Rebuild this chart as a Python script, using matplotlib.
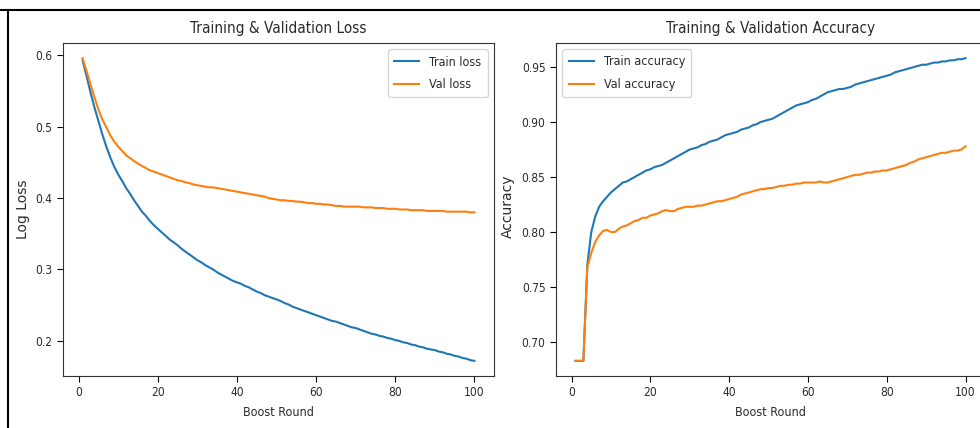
import matplotlib
matplotlib.use("Agg")
import matplotlib.pyplot as plt
from matplotlib.lines import Line2D

rounds = list(range(1, 101))

train_loss = [0.593, 0.571, 0.548, 0.527, 0.508, 0.489, 0.472, 0.457, 0.444, 0.433,
              0.424, 0.414, 0.406, 0.397, 0.389, 0.381, 0.375, 0.368, 0.362, 0.357,
              0.352, 0.347, 0.342, 0.338, 0.334, 0.329, 0.325, 0.321, 0.317, 0.313,
              0.310, 0.306, 0.303, 0.300, 0.296, 0.293, 0.290, 0.287, 0.284, 0.282,
              0.280, 0.277, 0.275, 0.272, 0.269, 0.267, 0.264, 0.262, 0.260, 0.258,
              0.256, 0.253, 0.251, 0.248, 0.246, 0.244, 0.242, 0.240, 0.238, 0.236,
              0.234, 0.232, 0.230, 0.228, 0.227, 0.225, 0.223, 0.221, 0.219, 0.218,
              0.216, 0.214, 0.212, 0.210, 0.209, 0.207, 0.206, 0.204, 0.203, 0.201,
              0.200, 0.198, 0.197, 0.195, 0.194, 0.192, 0.191, 0.189, 0.188, 0.187,
              0.185, 0.184, 0.182, 0.181, 0.179, 0.178, 0.176, 0.175, 0.173, 0.172]

val_loss = [0.596, 0.578, 0.559, 0.541, 0.524, 0.510, 0.499, 0.488, 0.479, 0.472,
            0.466, 0.460, 0.456, 0.452, 0.448, 0.445, 0.442, 0.439, 0.437, 0.435,
            0.433, 0.431, 0.429, 0.427, 0.425, 0.424, 0.422, 0.421, 0.419, 0.418,
            0.417, 0.416, 0.415, 0.415, 0.414, 0.413, 0.412, 0.411, 0.410, 0.409,
            0.408, 0.407, 0.406, 0.405, 0.404, 0.403, 0.402, 0.400, 0.399, 0.398,
            0.397, 0.397, 0.396, 0.396, 0.395, 0.395, 0.394, 0.393, 0.393, 0.392,
            0.392, 0.391, 0.391, 0.390, 0.389, 0.389, 0.388, 0.388, 0.388, 0.388,
            0.388, 0.387, 0.387, 0.387, 0.386, 0.386, 0.386, 0.385, 0.385, 0.385,
            0.384, 0.384, 0.384, 0.383, 0.383, 0.383, 0.383, 0.382, 0.382, 0.382,
            0.382, 0.382, 0.381, 0.381, 0.381, 0.381, 0.381, 0.381, 0.380, 0.380]

train_acc = [0.683, 0.683, 0.683, 0.770, 0.800, 0.814, 0.823, 0.828, 0.832, 0.836,
             0.839, 0.842, 0.845, 0.846, 0.848, 0.850, 0.852, 0.854, 0.856, 0.857,
             0.859, 0.860, 0.861, 0.863, 0.865, 0.867, 0.869, 0.871, 0.873, 0.875,
             0.876, 0.877, 0.879, 0.880, 0.882, 0.883, 0.884, 0.886, 0.888, 0.889,
             0.890, 0.891, 0.893, 0.894, 0.895, 0.897, 0.898, 0.900, 0.901, 0.902,
             0.903, 0.905, 0.907, 0.909, 0.911, 0.913, 0.915, 0.916, 0.917, 0.918,
             0.920, 0.921, 0.923, 0.925, 0.927, 0.928, 0.929, 0.930, 0.930, 0.931,
             0.932, 0.934, 0.935, 0.936, 0.937, 0.938, 0.939, 0.940, 0.941, 0.942,
             0.943, 0.945, 0.946, 0.947, 0.948, 0.949, 0.950, 0.951, 0.952, 0.952,
             0.953, 0.954, 0.954, 0.955, 0.955, 0.956, 0.956, 0.957, 0.957, 0.958]

val_acc = [0.683, 0.683, 0.683, 0.768, 0.781, 0.791, 0.797, 0.801, 0.802, 0.800,
           0.800, 0.803, 0.805, 0.806, 0.808, 0.810, 0.811, 0.813, 0.813, 0.815,
           0.816, 0.817, 0.819, 0.820, 0.819, 0.819, 0.821, 0.822, 0.823, 0.823,
           0.823, 0.824, 0.824, 0.825, 0.826, 0.827, 0.828, 0.828, 0.829, 0.830,
           0.831, 0.832, 0.834, 0.835, 0.836, 0.837, 0.838, 0.839, 0.839, 0.840,
           0.840, 0.841, 0.842, 0.842, 0.843, 0.843, 0.844, 0.844, 0.845, 0.845,
           0.845, 0.845, 0.846, 0.845, 0.845, 0.846, 0.847, 0.848, 0.849, 0.850,
           0.851, 0.852, 0.852, 0.853, 0.854, 0.854, 0.855, 0.855, 0.856, 0.856,
           0.857, 0.858, 0.859, 0.860, 0.861, 0.863, 0.864, 0.866, 0.867, 0.868,
           0.869, 0.870, 0.871, 0.872, 0.872, 0.873, 0.874, 0.874, 0.875, 0.878]

titles = ["Training & Validation Loss", "Training & Validation Accuracy"]
ylabels = ["Log Loss", "Accuracy"]
xlabel = "Boost Round"
loss_labels = ["Train loss", "Val loss"]
acc_labels = ["Train accuracy", "Val accuracy"]

text_color = "#2b2b2b"
plt.rcParams["font.family"] = ["DejaVu Sans"]
plt.rcParams["font.stretch"] = "condensed"
plt.rcParams["font.size"] = 9
plt.rcParams["axes.titlesize"] = 11
plt.rcParams["axes.labelsize"] = 9
plt.rcParams["xtick.labelsize"] = 8.6
plt.rcParams["ytick.labelsize"] = 8.6
plt.rcParams["legend.fontsize"] = 9
plt.rcParams["legend.labelspacing"] = 0.75
plt.rcParams["legend.borderpad"] = 0.5
plt.rcParams["axes.edgecolor"] = "#333333"
plt.rcParams["text.color"] = text_color
plt.rcParams["axes.labelcolor"] = text_color
plt.rcParams["axes.titlecolor"] = text_color
plt.rcParams["xtick.labelcolor"] = text_color
plt.rcParams["ytick.labelcolor"] = text_color
plt.rcParams["xtick.major.size"] = 4
plt.rcParams["ytick.major.size"] = 4

fig = plt.figure(figsize=(9.8, 4.28), dpi=100)
ax1 = fig.add_axes([63 / 980, 52 / 428, 431 / 980, 333 / 428])
ax2 = fig.add_axes([556 / 980, 52 / 428, 429 / 980, 333 / 428])

ylabel_font = dict(fontsize=10, fontstretch="normal")

ax1.plot(rounds, train_loss, label=loss_labels[0])
ax1.plot(rounds, val_loss, label=loss_labels[1])
ax1.set_title(titles[0], pad=7.5)
ax1.set_xlabel(xlabel, labelpad=5)
ax1.set_ylabel(ylabels[0], **ylabel_font)
ax1.yaxis.set_label_coords((30 - 63) / 431, 0.5)
ax1.legend(loc="upper right")

ax2.plot(rounds, train_acc, label=acc_labels[0])
ax2.plot(rounds, val_acc, label=acc_labels[1])
ax2.set_title(titles[1], pad=7.5)
ax2.set_xlabel(xlabel, labelpad=5)
ax2.set_ylabel(ylabels[1], **ylabel_font)
ax2.yaxis.set_label_coords((515 - 556) / 429, 0.51)
ax2.legend(loc="upper left")

fig.add_artist(Line2D([0, 1], [1 - 10 / 428, 1 - 10 / 428], color="black", lw=1.5,
                      transform=fig.transFigure))
fig.add_artist(Line2D([8 / 980, 8 / 980], [0, 1 - 10 / 428], color="black", lw=1.5,
                      transform=fig.transFigure))

fig.savefig("out.png", dpi=100)
